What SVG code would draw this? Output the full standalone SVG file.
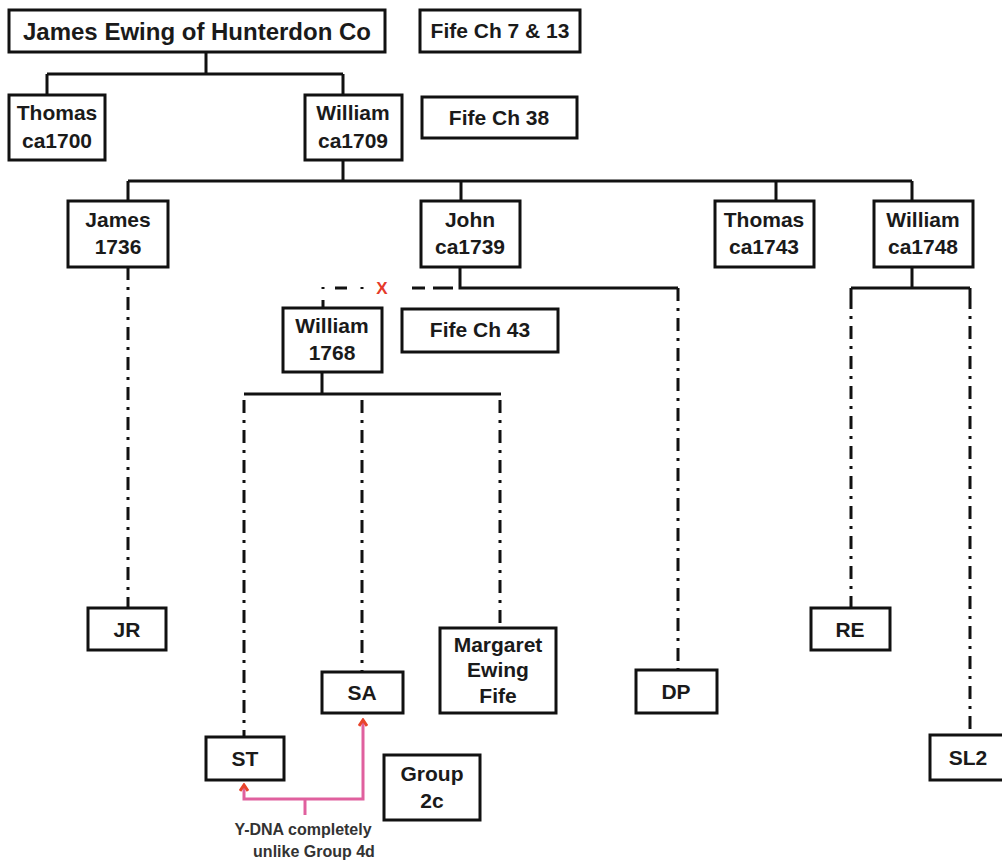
<svg xmlns="http://www.w3.org/2000/svg" width="1002" height="862" viewBox="0 0 1002 862">
<defs>
<style>
.box{fill:#fff;stroke:#111;stroke-width:3}
.t{font-family:"Liberation Sans",Arial,sans-serif;font-weight:bold;font-size:21px;fill:#1a1a1a;text-anchor:middle}
.big{font-size:24px}
.ln{fill:none;stroke:#111;stroke-width:3}
.dd{fill:none;stroke:#111;stroke-width:3;stroke-dasharray:13 7 3 7}
.pk{fill:none;stroke:#e0609e;stroke-width:3}
.note{font-family:"Liberation Sans",Arial,sans-serif;font-weight:bold;font-size:16px;fill:#333;text-anchor:middle}
</style>
<marker id="arr" viewBox="0 0 10 10" refX="8" refY="5" markerWidth="10" markerHeight="10" markerUnits="userSpaceOnUse" orient="auto-start-reverse">
<path d="M2,1 L8,5 L2,9" fill="none" stroke="#e8452c" stroke-width="3" stroke-linejoin="miter"/>
</marker>
</defs>
<g id="connectors">
<path class="ln" d="M206,52 V74 M47,74 H343 M47,74 V95 M343,74 V95"/>
<path class="ln" d="M343,160 V181 M128,181 H912 M128,181 V201 M461,181 V201 M776,181 V201 M912,181 V201"/>
<path class="ln" d="M460,267 V288 H678"/>
<path class="dd" d="M678,288 V670"/>
<path class="dd" d="M128,267 V608"/>
<path class="ln" d="M912,267 V288 M851,288 H970 M851,288 V296 M970,288 V296"/>
<path class="dd" d="M851,296 V608 M970,296 V735"/>
<path class="ln" d="M322,372 V394 M244,394 H501"/>
<path class="dd" d="M244,400 V737 M362,400 V672 M500,400 V628"/>
<path class="ln" d="M433,288 H453 M412,288 H425 M335,288 H347 M362,287 V289 M323,287 V289 M323,300 V308"/>
<text x="382" y="294" style="font-family:'Liberation Sans',Arial,sans-serif;font-weight:bold;font-size:17px;fill:#e53a2a;text-anchor:middle">X</text>
<path class="pk" d="M244,785 V799 H363 V720" marker-start="url(#arr)" marker-end="url(#arr)"/>
<path class="pk" d="M305,799 V815"/>
</g>
<g id="n_james_ewing"><rect class="box" x="9" y="10" width="376" height="42"/><text class="t big" x="197" y="40">James Ewing of Hunterdon Co</text></g>
<g id="n_fife7"><rect class="box" x="420" y="10" width="160" height="42"/><text class="t" x="500" y="38">Fife Ch 7 &amp; 13</text></g>
<g id="n_thomas1700"><rect class="box" x="9" y="95" width="96" height="65"/><text class="t" x="57" y="120">Thomas</text><text class="t" x="57" y="148">ca1700</text></g>
<g id="n_william1709"><rect class="box" x="305" y="95" width="97" height="65"/><text class="t" x="353" y="120">William</text><text class="t" x="353" y="148">ca1709</text></g>
<g id="n_fife38"><rect class="box" x="422" y="97" width="155" height="41"/><text class="t" x="499" y="125">Fife Ch 38</text></g>
<g id="n_james1736"><rect class="box" x="68" y="201" width="100" height="66"/><text class="t" x="118" y="227">James</text><text class="t" x="118" y="254">1736</text></g>
<g id="n_john1739"><rect class="box" x="421" y="201" width="99" height="66"/><text class="t" x="470" y="227">John</text><text class="t" x="470" y="254">ca1739</text></g>
<g id="n_thomas1743"><rect class="box" x="715" y="201" width="99" height="66"/><text class="t" x="764" y="227">Thomas</text><text class="t" x="764" y="254">ca1743</text></g>
<g id="n_william1748"><rect class="box" x="874" y="201" width="99" height="66"/><text class="t" x="923" y="227">William</text><text class="t" x="923" y="254">ca1748</text></g>
<g id="n_william1768"><rect class="box" x="283" y="308" width="99" height="64"/><text class="t" x="332" y="333">William</text><text class="t" x="332" y="360">1768</text></g>
<g id="n_fife43"><rect class="box" x="402" y="309" width="156" height="43"/><text class="t" x="480" y="337">Fife Ch 43</text></g>
<g id="n_jr"><rect class="box" x="88" y="608" width="78" height="42"/><text class="t" x="127" y="637">JR</text></g>
<g id="n_re"><rect class="box" x="811" y="608" width="79" height="42"/><text class="t" x="850" y="637">RE</text></g>
<g id="n_margaret"><rect class="box" x="440" y="628" width="116" height="85"/><text class="t" x="498" y="652">Margaret</text><text class="t" x="498" y="677">Ewing</text><text class="t" x="498" y="703">Fife</text></g>
<g id="n_sa"><rect class="box" x="322" y="672" width="81" height="41"/><text class="t" x="362" y="700">SA</text></g>
<g id="n_dp"><rect class="box" x="636" y="670" width="81" height="43"/><text class="t" x="676" y="699">DP</text></g>
<g id="n_st"><rect class="box" x="206" y="737" width="78" height="43"/><text class="t" x="245" y="766">ST</text></g>
<g id="n_group2c"><rect class="box" x="384" y="755" width="96" height="65"/><text class="t" x="432" y="781">Group</text><text class="t" x="432" y="808">2c</text></g>
<g id="n_sl2"><rect class="box" x="930" y="735" width="80" height="45"/><text class="t" x="968" y="765">SL2</text></g>
<g id="n_note"><text class="note" x="303" y="835">Y-DNA completely</text><text class="note" x="314" y="857">unlike Group 4d</text></g>
</svg>
